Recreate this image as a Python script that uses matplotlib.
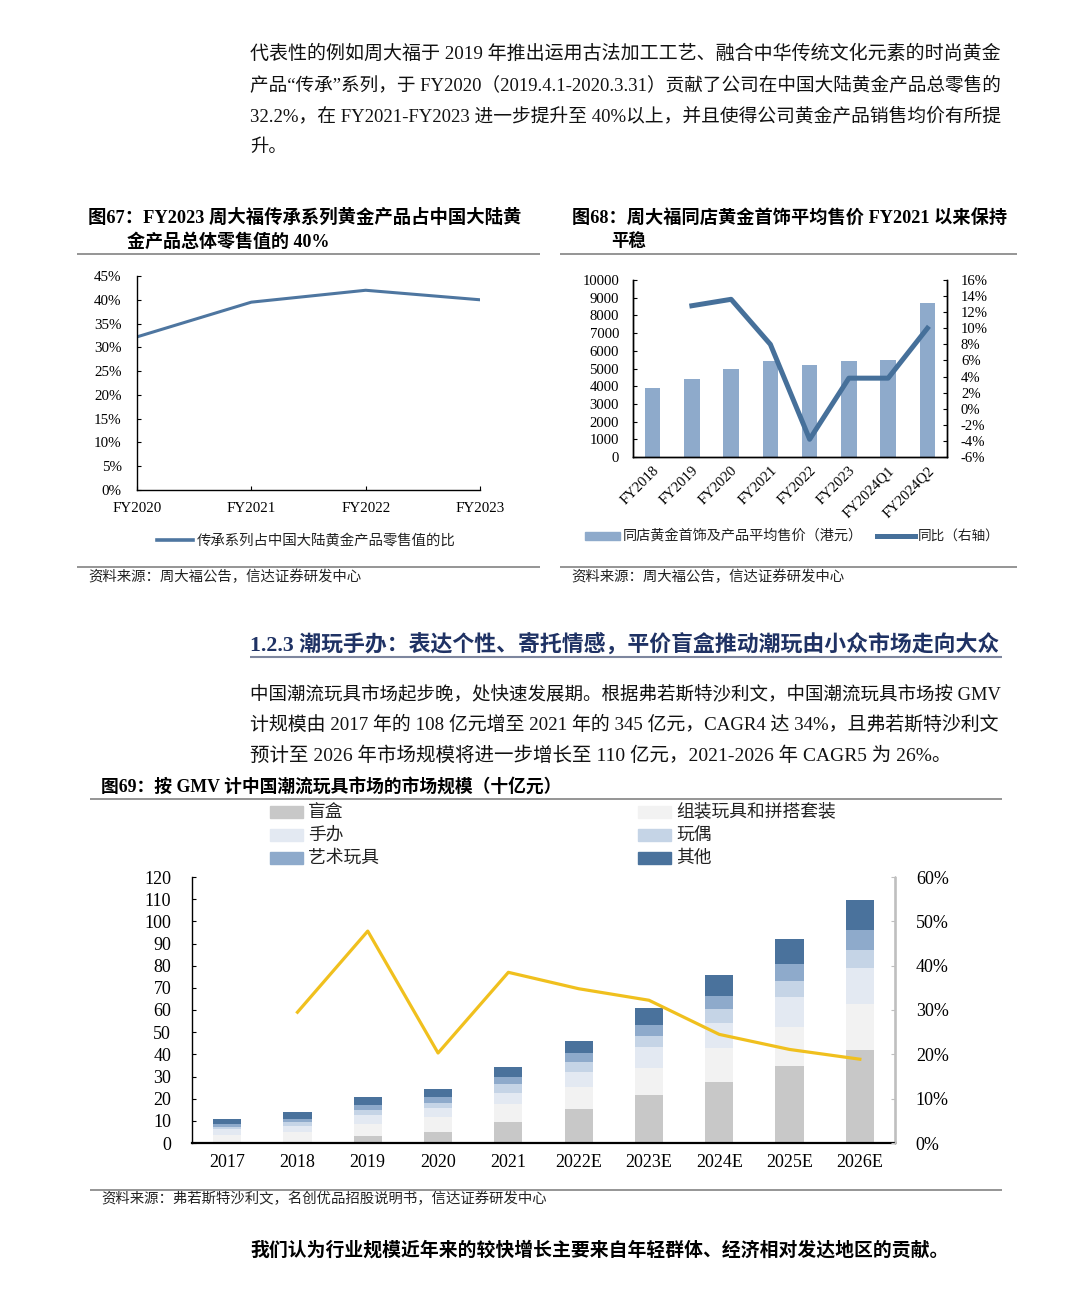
import matplotlib
matplotlib.use('Agg')
import matplotlib.pyplot as plt
import numpy as np
from matplotlib.patches import Rectangle
from matplotlib.ticker import FuncFormatter

W, H = 1080, 1303
SERIF = ['Liberation Serif', 'Noto Sans CJK SC']
plt.rcParams['font.family'] = SERIF
plt.rcParams['axes.linewidth'] = 1.0

# ---- data ----
fy_share = ['FY2020', 'FY2021', 'FY2022', 'FY2023']
chuancheng_share = [32.2, 39.5, 42.0, 40.0]

fy_price = ['FY2018', 'FY2019', 'FY2020', 'FY2021', 'FY2022', 'FY2023', 'FY2024Q1', 'FY2024Q2']
avg_price = [3900, 4400, 5000, 5400, 5200, 5400, 5500, 8700]
price_yoy = [np.nan, 12.8, 13.6, 8.0, -3.8, 3.8, 3.8, 10.0]

years = ['2017', '2018', '2019', '2020', '2021', '2022E', '2023E', '2024E', '2025E', '2026E']
blind_box = [0.0, 0.6, 3.0, 4.8, 9.3, 15.2, 21.7, 27.7, 34.6, 42.0]
assembly = [3.8, 4.5, 5.7, 6.8, 8.3, 9.9, 12.3, 15.0, 17.9, 20.9]
figures = [2.4, 2.7, 4.1, 4.0, 5.1, 7.1, 9.2, 11.3, 13.4, 15.9]
dolls = [1.2, 1.5, 2.2, 2.6, 3.9, 4.2, 5.2, 6.3, 7.3, 8.4]
art_toys = [1.0, 1.5, 2.0, 2.7, 3.0, 4.1, 4.8, 5.9, 7.6, 8.7]
others = [2.4, 3.0, 3.6, 3.6, 4.7, 5.7, 7.9, 9.7, 11.2, 13.7]
growth = [np.nan, 29.5, 47.8, 20.3, 38.5, 34.8, 32.2, 24.5, 21.1, 18.9]

toy_names = ['盲盒', '组装玩具和拼搭套装', '手办', '玩偶', '艺术玩具', '其他']
toy_colors = ['#c8c8c8', '#f2f2f2', '#e3e9f2', '#c5d4e6', '#8eaacb', '#4a729c']

para1 = ['代表性的例如周大福于 2019 年推出运用古法加工工艺、融合中华传统文化元素的时尚黄金',
         '产品“传承”系列，于 FY2020（2019.4.1-2020.3.31）贡献了公司在中国大陆黄金产品总零售的',
         '32.2%，在 FY2021-FY2023 进一步提升至 40%以上，并且使得公司黄金产品销售均价有所提',
         '升。']
para2 = ['中国潮流玩具市场起步晚，处快速发展期。根据弗若斯特沙利文，中国潮流玩具市场按 GMV',
         '计规模由 2017 年的 108 亿元增至 2021 年的 345 亿元，CAGR4 达 34%，且弗若斯特沙利文',
         '预计至 2026 年市场规模将进一步增长至 110 亿元，2021-2026 年 CAGR5 为 26%。']

fig = plt.figure(figsize=(W / 100, H / 100), dpi=100)
renderer = fig.canvas.get_renderer()

# page overlay in pixel coords
pg = fig.add_axes([0, 0, 1, 1])
pg.set_xlim(0, W)
pg.set_ylim(H, 0)
pg.axis('off')


def put(x0, y, s, size, x1=None, **kw):
    t = pg.text(x0, y, s, fontsize=size, va='center', ha='left', **kw)
    if x1 is not None:
        w = t.get_window_extent(renderer).width
        t.set_fontsize(size * (x1 - x0) / w)
    return t


def rule(x0, x1, y, color='#8c8c8c', lw=1.3):
    pg.plot([x0, x1], [y, y], color=color, lw=lw, solid_capstyle='butt')


def box(l, t, r, b):
    return [l / W, 1 - b / H, (r - l) / W, (b - t) / H]


pct = FuncFormatter(lambda v, p: f'{v * 100:.0f}%')

# ---- paragraph 1 ----
for i, (s, y) in enumerate(zip(para1, [54, 86, 117, 147])):
    put(250, y, s, 13.2, x1=1002 if i < 3 else None, color='#111111')

# ---- figure 67 ----
put(88, 218, '图67：FY2023 周大福传承系列黄金产品占中国大陆黄', 12.5, x1=522, fontweight='bold')
put(127, 242, '金产品总体零售值的 40%', 12.5, x1=330, fontweight='bold')
rule(77, 540, 254)
ax1 = fig.add_axes(box(137, 276, 480, 490))
x1 = np.arange(len(fy_share))
ax1.plot(x1, np.array(chuancheng_share) / 100, color='#4e76a0', lw=2.2)
ax1.set_xlim(0, 3)
ax1.set_ylim(0, 0.45)
ax1.set_yticks(np.arange(0, 0.451, 0.05))
ax1.yaxis.set_major_formatter(pct)
ax1.set_xticks(x1)
ax1.set_xticklabels(fy_share)
ax1.tick_params(direction='in', length=3, labelsize=10.8, pad=11)
ax1.tick_params(axis='x', pad=9)
for s in ['top', 'right']:
    ax1.spines[s].set_visible(False)
pg.plot([157, 193], [540, 540], color='#4e76a0', lw=2.6)
put(197, 540, '传承系列占中国大陆黄金产品零售值的比', 9.5, x1=458, color='#222222')
rule(77, 540, 567)
put(88, 577, '资料来源：周大福公告，信达证券研发中心', 9, x1=362, color='#222222')

# ---- figure 68 ----
put(572, 218, '图68：周大福同店黄金首饰平均售价 FY2021 以来保持', 12.5, x1=1007, fontweight='bold')
put(611, 242, '平稳', 12.5, fontweight='bold')
rule(560, 1017, 254)
ax2 = fig.add_axes(box(633, 280, 947, 457))
x2 = np.arange(len(fy_price))
ax2.bar(x2, avg_price, 0.4, color='#8eaacb')
ax2.set_xlim(-0.5, len(fy_price) - 0.5)
ax2.set_ylim(0, 10000)
ax2.set_yticks(np.arange(0, 10001, 1000))
ax2.set_xticks(x2)
ax2.set_xticklabels(fy_price, rotation=45, ha='right', rotation_mode='anchor')
ax2.tick_params(direction='in', length=3, labelsize=10.6, pad=10)
ax2.tick_params(axis='x', length=0, pad=5)
ax2.spines['top'].set_visible(False)
ax2b = ax2.twinx()
ax2b.plot(x2, np.array(price_yoy) / 100, color='#46709a', lw=3.6, solid_joinstyle='round')
ax2b.set_ylim(-0.06, 0.16)
ax2b.set_yticks(np.arange(-0.06, 0.161, 0.02))
ax2b.yaxis.set_major_formatter(pct)
ax2b.tick_params(direction='in', length=3, labelsize=10.6, pad=10)
ax2b.spines['top'].set_visible(False)
pg.add_patch(Rectangle((585, 532), 35, 8, color='#8eaacb'))
put(623, 536, '同店黄金首饰及产品平均售价（港元）', 9.5, x1=865, color='#222222')
pg.plot([877, 915], [536, 536], color='#46709a', lw=3.6)
put(918, 536, '同比（右轴）', 9.5, x1=1000, color='#222222')
rule(560, 1017, 567)
put(571, 577, '资料来源：周大福公告，信达证券研发中心', 9, x1=845, color='#222222')

# ---- section heading + paragraph 2 ----
put(250, 644, '1.2.3 潮玩手办：表达个性、寄托情感，平价盲盒推动潮玩由小众市场走向大众', 13.5,
    x1=1000, fontweight='bold', color='#1f3264')
rule(250, 1002, 657, color='#7d869e', lw=1.5)
for i, (s, y) in enumerate(zip(para2, [694, 725, 756])):
    put(250, y, s, 13.2, x1=1002 if i < 2 else 950, color='#111111')

# ---- figure 69 ----
put(101, 787, '图69：按 GMV 计中国潮流玩具市场的市场规模（十亿元）', 12.5, x1=562, fontweight='bold')
rule(90, 1002, 799)
leg_pos = [(270, 812), (638, 812), (270, 835), (638, 835), (270, 858), (638, 858)]
for (lx, ly), name, c in zip(leg_pos, toy_names, toy_colors):
    pg.add_patch(Rectangle((lx, ly - 6), 33, 12, color=c))
    put(lx + 38, ly, name, 12.8, color='#222222')

ax3 = fig.add_axes(box(192, 877, 895, 1143))
x3 = np.arange(len(years))
bottom = np.zeros(len(years))
for vals, c in zip([blind_box, assembly, figures, dolls, art_toys, others], toy_colors):
    ax3.bar(x3, vals, 0.4, bottom=bottom, color=c)
    bottom += np.array(vals)
ax3.set_xlim(-0.5, len(years) - 0.5)
ax3.set_ylim(0, 120)
ax3.set_yticks(np.arange(0, 121, 10))
ax3.set_xticks(x3)
ax3.set_xticklabels(years)
ax3.tick_params(direction='in', length=3, labelsize=13, pad=15)
ax3.tick_params(axis='x', length=0, pad=8)
ax3.spines['top'].set_visible(False)
ax3.spines['bottom'].set_linewidth(1.6)
ax3b = ax3.twinx()
ax3b.plot(x3, np.array(growth) / 100, color='#f0c01e', lw=2.3)
ax3b.set_ylim(0, 0.6)
ax3b.set_yticks(np.arange(0, 0.61, 0.1))
ax3b.yaxis.set_major_formatter(pct)
ax3b.tick_params(direction='in', length=3, labelsize=13, pad=15, color='#bfbfbf')
ax3b.spines['top'].set_visible(False)
ax3b.spines['right'].set_color('#bfbfbf')
ax3b.spines['left'].set_visible(False)
ax3b.spines['bottom'].set_visible(False)

rule(90, 1002, 1190)
put(101, 1199, '资料来源：弗若斯特沙利文，名创优品招股说明书，信达证券研发中心', 9, x1=547, color='#222222')
put(250, 1250, '我们认为行业规模近年来的较快增长主要来自年轻群体、经济相对发达地区的贡献。', 12.5,
    x1=948, fontweight='bold')

fig.savefig('out.png', dpi=100)
